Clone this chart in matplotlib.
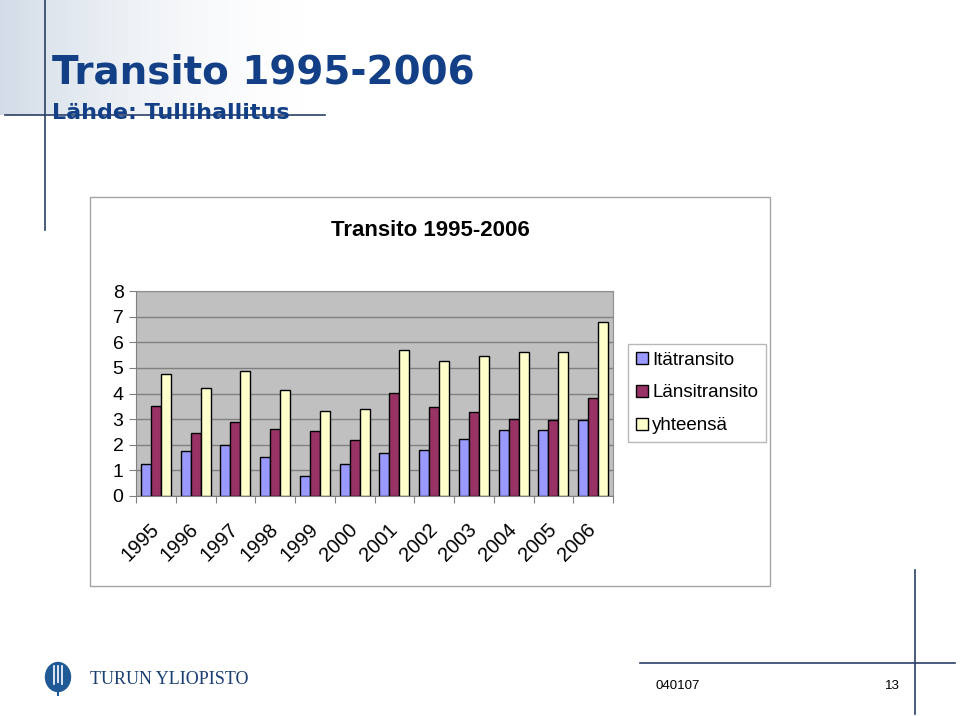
import numpy as np
import matplotlib.pyplot as plt
from matplotlib.patches import Rectangle, Ellipse

# data
years = ['1995', '1996', '1997', '1998', '1999', '2000',
         '2001', '2002', '2003', '2004', '2005', '2006']
ita = [1.24, 1.74, 1.98, 1.54, 0.80, 1.23, 1.67, 1.79, 2.22, 2.57, 2.57, 2.95]
lansi = [3.51, 2.47, 2.90, 2.60, 2.53, 2.17, 4.01, 3.46, 3.28, 3.02, 2.96, 3.84]
yhteensa = [4.75, 4.20, 4.87, 4.14, 3.33, 3.39, 5.68, 5.25, 5.48, 5.61, 5.61, 6.79]
series_names = ['Itätransito', 'Länsitransito', 'yhteensä']
colors = ['#9999FF', '#993366', '#FFFFCC']

W, H = 960, 716
fig = plt.figure(figsize=(W / 100, H / 100), dpi=100)

# slide background (pixel coordinates)
bg = fig.add_axes([0, 0, 1, 1], zorder=0)

# faded header texture top-left
hh, ww = 115, 340
xs = np.linspace(0, 1, ww)
alpha = np.clip(1 - xs * 1.05, 0, 1) ** 1.8 * 0.55
img = np.ones((hh, ww, 4))
img[..., 0], img[..., 1], img[..., 2] = 0.68, 0.75, 0.83
img[..., 3] = alpha[None, :]
bg.imshow(img, extent=(0, ww, hh, 0), aspect='auto', zorder=0,
          interpolation='bilinear')
bg.set_xlim(0, W)
bg.set_ylim(H, 0)
bg.axis('off')

navy = '#2B3E66'
bg.plot([5, 325], [115, 115], color=navy, lw=1.2)
bg.plot([45, 45], [0, 230], color=navy, lw=1.2)
bg.plot([640, 955], [663, 663], color=navy, lw=1.2)
bg.plot([915, 915], [570, 714], color=navy, lw=1.2)

title_blue = '#133F87'
bg.text(52, 84, 'Transito 1995-2006', fontsize=28, fontweight='bold',
        color=title_blue, family='DejaVu Sans', ha='left', va='baseline')
bg.text(52, 119, 'Lähde: Tullihallitus', fontsize=16, fontweight='bold',
        color=title_blue, family='DejaVu Sans', ha='left', va='baseline')

# footer
bg.text(655, 689, '040107', fontsize=9.5, family='Liberation Sans', va='baseline')
bg.text(900, 689, '13', fontsize=9.5, family='Liberation Sans', ha='right', va='baseline')
bg.add_patch(Ellipse((58, 677), 25, 29, color='#1F5A96'))
for dx in (-4, 0, 4):
    bg.plot([58 + dx, 58 + dx], [666, 684], color='white', lw=1.2)
bg.plot([58, 58], [684, 695], color='#1F5A96', lw=1.5)
bg.text(90, 684, 'TURUN YLIOPISTO', fontsize=13, family='Liberation Serif',
        color='#1C3F72', va='baseline')

# chart box
bg.add_patch(Rectangle((90, 197), 680, 389, facecolor='white',
                       edgecolor='#A6A6A6', lw=1))
bg.text(430, 236, 'Transito 1995-2006', fontsize=16, fontweight='bold',
        family='Liberation Sans', ha='center', va='baseline')

# plot area
ax = fig.add_axes([136 / W, 1 - 496 / H, 477 / W, 205 / H], zorder=1)
ax.set_facecolor('#C0C0C0')
x = np.arange(len(years))
bw = 0.25
for i, (vals, c) in enumerate(zip([ita, lansi, yhteensa], colors)):
    ax.bar(x + (i - 1) * bw, vals, bw, color=c, edgecolor='black',
           linewidth=1, label=series_names[i], zorder=3)

ax.set_xlim(-0.5, len(years) - 0.5)
ax.set_ylim(0, 8)
ax.set_yticks(range(9))
ax.yaxis.grid(True, color='#808080', lw=1, zorder=0)
ax.set_axisbelow(True)
for s in ['top', 'right']:
    ax.spines[s].set_color('#909090')
ax.spines['left'].set_color('#808080')
ax.spines['bottom'].set_color('#808080')
ax.tick_params(axis='y', length=5, color='#808080', labelsize=14, pad=4)
for lab in ax.get_yticklabels():
    lab.set_family('Liberation Sans')

ax.set_xticks(np.arange(len(years) + 1) - 0.5)
ax.set_xticklabels([])
ax.tick_params(axis='x', which='major', length=5, color='#808080')
ax.set_xticks(x, minor=True)
ax.set_xticklabels(years, minor=True, rotation=45, ha='right', va='center',
                   rotation_mode='anchor', fontsize=14.5, family='Liberation Sans')
ax.tick_params(axis='x', which='minor', length=0, pad=22)

leg = fig.legend(loc='upper left', bbox_to_anchor=(628 / W, 1 - 344 / H),
                 prop={'family': 'Liberation Sans', 'size': 13.5},
                 frameon=True, fancybox=False, edgecolor='#A6A6A6',
                 handlelength=0.65, handleheight=0.65, handletextpad=0.25,
                 labelspacing=0.85, borderpad=0.4, borderaxespad=0)
leg.get_frame().set_linewidth(1)

fig.savefig('out.png', dpi=100)
